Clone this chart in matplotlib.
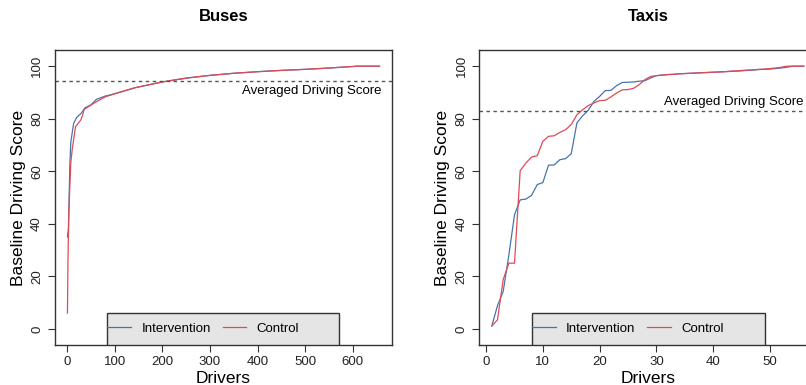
import matplotlib.pyplot as plt
from matplotlib.patches import Rectangle

plt.rcParams['font.family'] = ['Liberation Sans', 'DejaVu Sans']

# Buses: sorted baseline scores, read at selected driver ranks
bus_int_x = [1, 3, 6, 8, 11, 14, 20, 31, 38, 50, 62, 80, 100, 143, 200, 250, 300, 350, 400, 450, 500, 550, 610, 656]
bus_int_y = [35, 38, 62, 71, 74.7, 78.2, 80.4, 82.3, 84.2, 85.2, 87.4, 88.6, 89.5, 91.8, 94.0, 95.4, 96.5, 97.3, 97.9, 98.4, 98.8, 99.3, 100, 100]
bus_ctl_x = [1, 2, 4, 8, 11, 18, 29, 33, 36, 50, 62, 80, 100, 143, 200, 250, 300, 350, 400, 450, 500, 550, 610, 656]
bus_ctl_y = [6, 25, 45, 63.2, 68.3, 77, 79.5, 81.5, 83.5, 85.2, 86.5, 88.3, 89.5, 91.8, 94.0, 95.5, 96.5, 97.3, 97.9, 98.4, 98.8, 99.3, 100, 100]
bus_avg = 94.2

# Taxis: one value per driver
taxi_x = list(range(1, 57))
taxi_int = [1.1, 8.8, 14.2, 28, 43.4, 49.1, 49.4, 50.8, 54.9, 55.7,
            62.3, 62.4, 64.4, 64.8, 66.7, 78.4, 81.1, 83.2, 86.6, 88.5,
            90.7, 90.8, 92.6, 93.8, 93.9, 94.0, 94.3, 94.5, 95.5, 96.4,
            96.6, 96.8, 96.9, 97.1, 97.2, 97.3, 97.4, 97.5, 97.6, 97.7,
            97.8, 97.9, 98.0, 98.1, 98.2, 98.4, 98.5, 98.7, 98.8, 98.9,
            99.1, 99.3, 99.6, 100, 100, 100]
taxi_ctl = [1.1, 3.4, 18.7, 25, 25, 60.2, 63.1, 65.4, 65.9, 71.4,
            73.3, 73.5, 74.8, 75.8, 77.8, 81.5, 83.4, 85.0, 86.0, 86.9,
            87.0, 88.3, 89.8, 91.0, 91.1, 91.6, 93.0, 94.9, 96.1, 96.4,
            96.6, 96.8, 96.9, 97.1, 97.2, 97.3, 97.4, 97.5, 97.6, 97.7,
            97.8, 97.9, 98.1, 98.2, 98.4, 98.5, 98.6, 98.8, 98.9, 99.1,
            99.3, 99.6, 100, 100, 100, 100]
taxi_avg = 82.8

blue = '#4674b0'
red = '#e04a55'
dark = '#333333'

fig = plt.figure(figsize=(8.06, 3.85), dpi=100)
ax1 = fig.add_axes([0.0682, 0.1039, 0.4181, 0.7662])
ax2 = fig.add_axes([0.5947, 0.1039, 0.4181, 0.7662])


def style(ax, title, xticks):
    ax.set_ylim(-6.16, 106.16)
    ax.set_xticks(xticks)
    ax.set_yticks([0, 20, 40, 60, 80, 100])
    for s in ax.spines.values():
        s.set_color(dark)
        s.set_linewidth(1)
    ax.tick_params(direction='out', length=5, width=0.8, color=dark,
                   labelsize=9.5, labelcolor='#222222', pad=3)
    ax.tick_params(axis='y', pad=3.5)
    for lab in ax.get_yticklabels():
        lab.set_rotation(90)
        lab.set_va('center')
    ax.set_title(title, fontsize=12, fontweight='bold', pad=21)
    ax.set_xlabel('Drivers', fontsize=12.5, va='center')
    ax.set_ylabel('Baseline Driving Score', fontsize=12.5, va='center')
    ax.xaxis.set_label_coords(0.5, -0.112)
    ax.yaxis.set_label_coords(-0.109, 0.5)


def legend_box(ax, x0, x1):
    ax.add_patch(Rectangle((x0, -6.16), x1 - x0, 12.0, facecolor='#e5e5e5',
                           edgecolor=dark, linewidth=1, zorder=3))
    h1, = ax.plot([], [], color=blue, lw=0.9, label='Intervention')
    h2, = ax.plot([], [], color=red, lw=0.9, label='Control')
    leg = ax.legend(handles=[h1, h2], ncol=2, frameon=False, fontsize=9.5,
                    loc='center left', bbox_to_anchor=(x0, 0),
                    bbox_transform=ax.transData, handlelength=1.8,
                    handletextpad=0.8, columnspacing=0.9, borderaxespad=0,
                    borderpad=0)
    leg.set_zorder(4)


# Buses
ax1.plot(bus_int_x, bus_int_y, color=blue, lw=0.9)
ax1.plot(bus_ctl_x, bus_ctl_y, color=red, lw=0.9)
ax1.axhline(bus_avg, color='#555555', lw=1, ls=(0, (2.5, 2.5)))
ax1.text(660, bus_avg - 3.7, 'Averaged Driving Score', ha='right', va='center', fontsize=9.5)
ax1.set_xlim(-25.2, 682.2)
style(ax1, 'Buses', [0, 100, 200, 300, 400, 500, 600])
legend_box(ax1, 84, 571)

# Taxis
ax2.plot(taxi_x, taxi_int, color=blue, lw=0.9)
ax2.plot(taxi_x, taxi_ctl, color=red, lw=0.9)
ax2.axhline(taxi_avg, color='#555555', lw=1, ls=(0, (2.5, 2.5)))
ax2.text(55.9, taxi_avg + 3.4, 'Averaged Driving Score', ha='right', va='center', fontsize=9.5)
ax2.set_xlim(-1.2, 58.2)
style(ax2, 'Taxis', [0, 10, 20, 30, 40, 50])
legend_box(ax2, 8.07, 49.1)

fig.savefig('out.png', dpi=100)
